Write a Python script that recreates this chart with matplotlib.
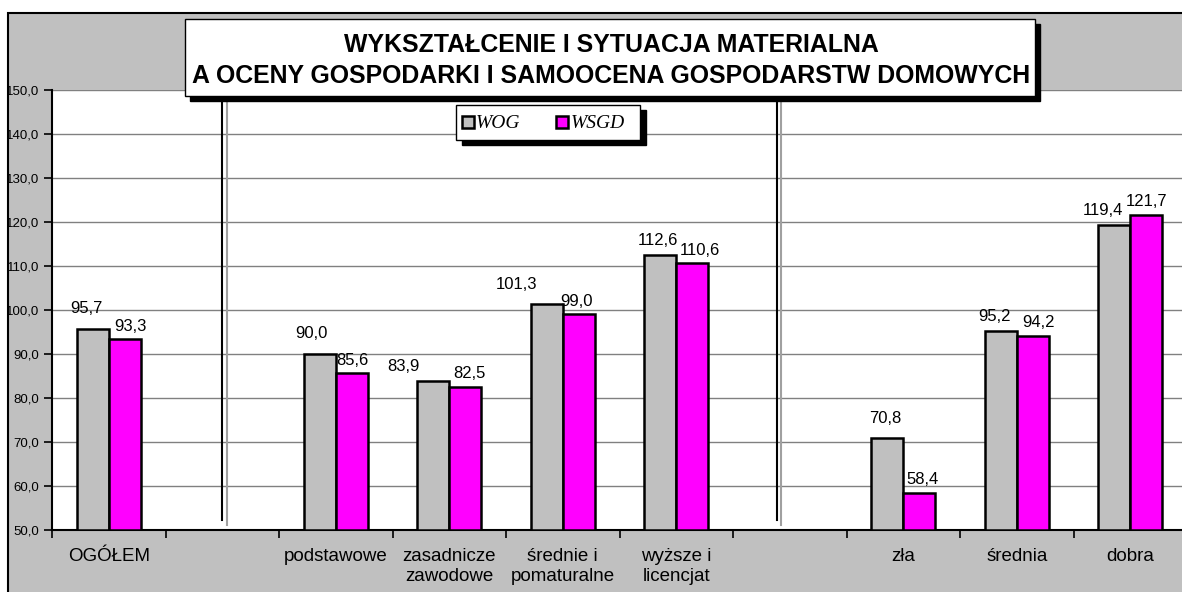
import matplotlib
matplotlib.use("Agg")
import matplotlib.pyplot as plt
from matplotlib.patches import Rectangle
import numpy as np

categories = ["OGÓŁEM", "", "podstawowe", "zasadnicze\nzawodowe", "średnie i\npomaturalne",
              "wyższe i\nlicencjat", "", "zła", "średnia", "dobra"]
wog = [95.7, None, 90.0, 83.9, 101.3, 112.6, None, 70.8, 95.2, 119.4]
wsgd = [93.3, None, 85.6, 82.5, 99.0, 110.6, None, 58.4, 94.2, 121.7]
series_names = ["WOG", "WSGD"]
title = "WYKSZTAŁCENIE I SYTUACJA MATERIALNA\nA OCENY GOSPODARKI I SAMOOCENA GOSPODARSTW DOMOWYCH"

# label nudges in pixels (layout only): (dx, dy) for WOG and WSGD labels
wog_nudge = [(-6, 10), None, (-8, 10), (-30, 4), (-30, 10), (-2, 4), None, (-2, 10), (-6, 4), (-11, 4)]
wsgd_nudge = [(6, 3), None, (1, 3), (4, 3), (-2, 3), (8, 3), None, (3, 3), (6, 3), (0, 3)]

W, H = 1182, 592
fig = plt.figure(figsize=(W / 100, H / 100), dpi=100)
fig.patch.set_facecolor("white")

def fx(px):
    return px / W

def fy(py):
    return 1 - py / H

# outer chart area (extends past the right edge, as in the reference crop)
fig.patches.append(Rectangle((fx(8), fy(600)), fx(1200) - fx(8), fy(13) - fy(600),
                             transform=fig.transFigure, facecolor="#C0C0C0",
                             edgecolor="black", linewidth=1.5, zorder=-5))

ax = fig.add_axes([fx(52), fy(530), fx(1187) - fx(52), fy(90) - fy(530)])
ax.set_zorder(1)
ax.set_facecolor("white")
ax.set_ylim(50, 150)
ax.set_xlim(-0.5, len(categories) - 0.5)
ax.set_yticks(np.arange(50, 151, 10))
ax.set_yticklabels([f"{v:.1f}".replace(".", ",") for v in np.arange(50, 151, 10)],
                   fontsize=9.5, family="Liberation Sans")
ax.yaxis.grid(True, color="#808080", linewidth=1)
ax.set_axisbelow(True)
for s in ["top", "right"]:
    ax.spines[s].set_visible(False)
ax.spines["left"].set_linewidth(1.5)
ax.spines["bottom"].set_linewidth(1.5)
ax.tick_params(axis="y", length=6, width=1.2, pad=3)

# x ticks at category boundaries, labels at centers
ax.set_xticks(np.arange(-0.5, len(categories), 1))
ax.set_xticklabels([])
ax.set_xticks(np.arange(len(categories)), minor=True)
ax.set_xticklabels(categories, minor=True, fontsize=13.5, family="Liberation Sans",
                   linespacing=1.25, va="top")
ax.tick_params(axis="x", which="major", length=6, width=1.2)
ax.tick_params(axis="x", which="minor", length=0, pad=13)

bw = 0.28
for i in range(len(categories)):
    if wog[i] is None:
        continue
    for val, off, col, nd in [(wog[i], -bw / 2, "#C0C0C0", wog_nudge[i]),
                              (wsgd[i], bw / 2, "#FF00FF", wsgd_nudge[i])]:
        ax.bar(i + off, val - 50, bottom=50, width=bw, color=col, edgecolor="black",
               linewidth=1.8, zorder=3)
        ax.annotate(f"{val:.1f}".replace(".", ","), (i + off, val),
                    xytext=(nd[0] * 0.72, nd[1] * 0.72 + 2), textcoords="offset points",
                    ha="center", va="bottom", fontsize=12, family="Liberation Sans", zorder=4)

# separators (double lines)
for xb, xg in [(1.0, 1.04), (5.885, 5.92)]:
    ax.plot([xb, xb], [152, 52.3], color="black", linewidth=1.5, clip_on=False, zorder=2)
    ax.plot([xg, xg], [152, 51.1], color="#A0A0A0", linewidth=1.5, clip_on=False, zorder=2)

# title box with shadow
tx0, ty0, tx1, ty1 = 185, 19, 1035, 96
sh = 5
fig.patches.append(Rectangle((fx(tx0 + sh), fy(ty1 + sh)), fx(tx1) - fx(tx0), fy(ty0) - fy(ty1),
                             transform=fig.transFigure, facecolor="black", edgecolor="black",
                             zorder=5))
fig.patches.append(Rectangle((fx(tx0), fy(ty1)), fx(tx1) - fx(tx0), fy(ty0) - fy(ty1),
                             transform=fig.transFigure, facecolor="white", edgecolor="black",
                             linewidth=1, zorder=6))
fig.text(fx((tx0 + tx1) / 2 + 1), fy((ty0 + ty1) / 2 + 3), title, ha="center", va="center",
         fontsize=17.9, fontweight="bold", family="Liberation Sans", linespacing=1.35, zorder=7)

# legend box with shadow
lx0, ly0, lx1, ly1 = 456, 105, 640, 140
fig.patches.append(Rectangle((fx(lx0 + 6), fy(ly1 + 5)), fx(lx1) - fx(lx0), fy(ly0) - fy(ly1),
                             transform=fig.transFigure, facecolor="black", edgecolor="black",
                             zorder=5))
fig.patches.append(Rectangle((fx(lx0), fy(ly1)), fx(lx1) - fx(lx0), fy(ly0) - fy(ly1),
                             transform=fig.transFigure, facecolor="white", edgecolor="black",
                             linewidth=1, zorder=6))
ly = (ly0 + ly1) / 2
for (sx, tx), name, col in zip([(462, 476), (556, 571)], series_names, ["#C0C0C0", "#FF00FF"]):
    fig.patches.append(Rectangle((fx(sx), fy(ly + 6)), fx(12), fy(0) - fy(12),
                                 transform=fig.transFigure, facecolor=col, edgecolor="black",
                                 linewidth=1.8, zorder=7))
    fig.text(fx(tx), fy(ly + 1), name, ha="left", va="center", fontsize=14, style="italic",
             family="Liberation Serif", zorder=7)

fig.savefig("out.png", dpi=100)
